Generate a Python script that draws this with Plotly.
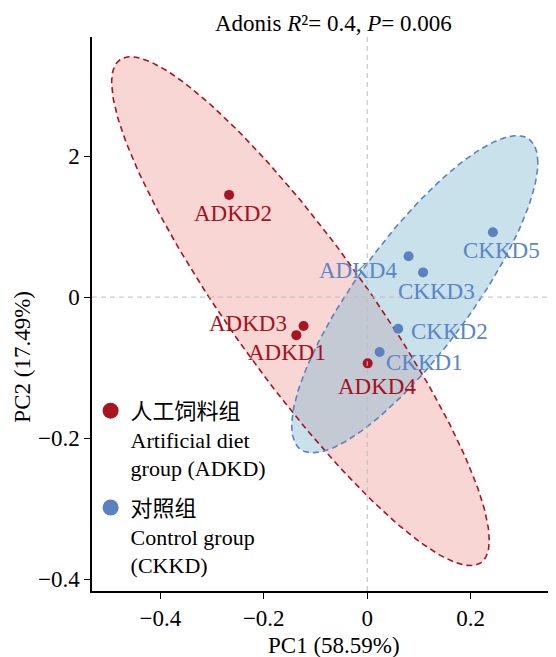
import numpy as np
import plotly.graph_objects as go

# ---------------- data ----------------
adkd_labels = ["ADKD1", "ADKD2", "ADKD3", "ADKD4"]
adkd_pc1 = [-0.137, -0.267, -0.123, 0.001]
adkd_pc2 = [-0.054, 0.145, -0.041, -0.094]

ckkd_labels = ["CKKD1", "CKKD2", "CKKD3", "ADKD4", "CKKD5"]
ckkd_pc1 = [0.024, 0.060, 0.108, 0.080, 0.243]
ckkd_pc2 = [-0.078, -0.045, 0.035, 0.058, 0.092]

# confidence ellipses: centre x, centre y, half-extent x, half-extent y, correlation
adkd_ellipse = [-0.129, -0.020, 0.365, 0.361, -0.90]
ckkd_ellipse = [0.092, 0.004, 0.238, 0.225, 0.83]

x_ticks = [-0.4, -0.2, 0, 0.2]
x_ticklabels = ["−0.4", "−0.2", "0", "0.2"]
y_ticks = [0.2, 0, -0.2, -0.4]
y_ticklabels = ["2", "0", "−0.2", "−0.4"]

group_names = ["人工饲料组<br>Artificial diet<br>group (ADKD)",
               "对照组<br>Control group<br>(CKKD)"]

# label pixel offsets (style)
adkd_offsets = [(-9, 17), (4, 19), (-56, -2), (9, 23)]
ckkd_offsets = [(45, 10), (51, 3), (13, 19), (-51, 14), (9, 18)]

# ---------------- style ----------------
FONT = "Liberation Serif, 'Times New Roman', 'Noto Sans CJK SC', serif"
RED = "#A8141F"
RED_TXT = "#A8101C"
BLUE = "#5B82C0"
BLUE_TXT = "#5B85C8"
RED_FILL = "rgba(238,164,160,0.45)"
BLUE_FILL = "rgba(133,189,211,0.45)"


def ellipse_path(p, n=240):
    cx, cy, sx, sy, rho = p
    phi = np.arccos(rho)
    t = np.linspace(0, 2 * np.pi, n)
    return cx + sx * np.cos(t), cy + sy * np.cos(t - phi)


fig = go.Figure()

ex_r, ey_r = ellipse_path(adkd_ellipse)
ex_b, ey_b = ellipse_path(ckkd_ellipse)

fig.add_trace(go.Scatter(x=ex_r, y=ey_r, mode="lines", fill="toself",
                         fillcolor=RED_FILL, line=dict(width=0),
                         showlegend=False, hoverinfo="skip"))
fig.add_trace(go.Scatter(x=ex_b, y=ey_b, mode="lines", fill="toself",
                         fillcolor=BLUE_FILL, line=dict(width=0),
                         showlegend=False, hoverinfo="skip"))
fig.add_trace(go.Scatter(x=ex_r, y=ey_r, mode="lines",
                         line=dict(color=RED, width=1.6, dash="6px,4px"),
                         showlegend=False, hoverinfo="skip"))
fig.add_trace(go.Scatter(x=ex_b, y=ey_b, mode="lines",
                         line=dict(color=BLUE, width=1.6, dash="6px,4px"),
                         showlegend=False, hoverinfo="skip"))

fig.add_trace(go.Scatter(x=adkd_pc1, y=adkd_pc2, mode="markers",
                         marker=dict(color=RED, size=10),
                         text=adkd_labels, showlegend=False))
fig.add_trace(go.Scatter(x=ckkd_pc1, y=ckkd_pc2, mode="markers",
                         marker=dict(color=BLUE, size=10),
                         text=ckkd_labels, showlegend=False))

# legend entries
fig.add_trace(go.Scatter(x=[None], y=[None], mode="markers", name=group_names[0],
                         marker=dict(color=RED, size=16), legendgroup="a"))
fig.add_trace(go.Scatter(x=[None], y=[None], mode="markers", name=group_names[1],
                         marker=dict(color=BLUE, size=16), legendgroup="b"))

annotations = []
for lab, x, y, (dx, dy) in zip(adkd_labels, adkd_pc1, adkd_pc2, adkd_offsets):
    annotations.append(dict(x=x, y=y, text=lab, showarrow=False, xshift=dx, yshift=-dy,
                            font=dict(family=FONT, size=23, color=RED_TXT)))
for lab, x, y, (dx, dy) in zip(ckkd_labels, ckkd_pc1, ckkd_pc2, ckkd_offsets):
    annotations.append(dict(x=x, y=y, text=lab, showarrow=False, xshift=dx, yshift=-dy,
                            font=dict(family=FONT, size=23, color=BLUE_TXT)))

# title and axis titles
annotations.append(dict(xref="paper", yref="paper", x=0.52, y=1.0, yshift=14,
                        text="Adonis <i>R</i>²= 0.4, <i>P</i>= 0.006",
                        showarrow=False, font=dict(family=FONT, size=23, color="black"),
                        yanchor="middle"))
annotations.append(dict(xref="paper", yref="paper", x=0.522, y=0, yshift=-54,
                        text="PC1 (58.59%)", showarrow=False, yanchor="middle",
                        font=dict(family=FONT, size=23, color="black")))
annotations.append(dict(xref="paper", yref="paper", x=0, xshift=-69, y=0.423,
                        text="PC2 (17.49%)", showarrow=False, textangle=-90,
                        xanchor="center", yanchor="middle",
                        font=dict(family=FONT, size=23, color="black")))

fig.update_layout(
    width=548, height=649,
    margin=dict(l=84, r=0, t=29, b=66),
    paper_bgcolor="white", plot_bgcolor="white",
    font=dict(family=FONT, size=23, color="black"),
    annotations=annotations,
    showlegend=True,
    legend=dict(x=-0.003, y=0.363, xanchor="left", yanchor="top", valign="top",
                bgcolor="rgba(0,0,0,0)", font=dict(family=FONT, size=22),
                tracegroupgap=8, itemclick=False),
    shapes=[
        dict(type="line", xref="x", yref="paper", x0=0, x1=0, y0=0, y1=1,
             line=dict(color="#BDBDBD", width=1, dash="5px,4px"), layer="above"),
        dict(type="line", xref="paper", yref="y", x0=0, x1=1, y0=0, y1=0,
             line=dict(color="#BDBDBD", width=1, dash="5px,4px"), layer="above"),
    ],
)
fig.update_xaxes(range=[-0.532, 0.365], tickvals=x_ticks, ticktext=x_ticklabels,
                 showgrid=False, zeroline=False, showline=True, linecolor="black",
                 linewidth=1.5, ticks="outside", ticklen=6, tickcolor="black",
                 tickfont=dict(family=FONT, size=23))
fig.update_yaxes(range=[-0.417, 0.369], tickvals=y_ticks, ticktext=y_ticklabels,
                 showgrid=False, zeroline=False, showline=True, linecolor="black",
                 linewidth=1.5, ticks="outside", ticklen=6, tickcolor="black",
                 tickfont=dict(family=FONT, size=23))

fig.write_html("out.html")
